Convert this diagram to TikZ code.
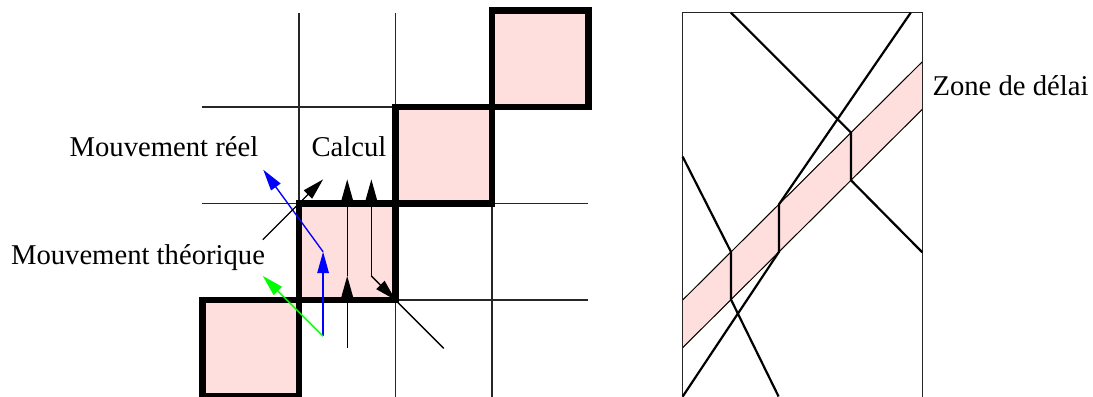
\documentclass[tikz,border=0pt]{standalone}
\usepackage{fontspec}
\setmainfont{Liberation Serif}
\usetikzlibrary{arrows.meta}
\definecolor{zonepink}{RGB}{255,222,222}
\begin{document}
\begin{tikzpicture}[
  gridline/.style={line width=0.35pt, black!85},
  cellbox/.style={line width=1.85pt, fill=zonepink, line join=miter},
  arr/.style={line width=0.4pt, -{Triangle[length=6.3pt,width=3.4pt]}},
  lbl/.style={font=\fontsize{8.45}{10}\selectfont, anchor=base, inner sep=0pt},
  traj/.style={line width=0.65pt, line join=miter},
  bandedge/.style={line width=0.3pt},
]
\clip (-2.098,0.005) rectangle (9.228,4.109);
% ---------- left figure: grid ----------
\foreach \i in {1,2,3}{
  \draw[gridline] (\i,0) -- (\i,3.975);
  \draw[gridline] (0,\i) -- (4,\i);
}
% cells
\draw[cellbox] (0,0) rectangle (1,1);
\draw[cellbox] (1,1) rectangle (2,2);
\draw[cellbox] (2,2) rectangle (3,3);
\draw[cellbox] (3,3) rectangle (4,4);
% coordinates
\coordinate (s)  at (1.25,0.625);
\coordinate (bm) at (1.25,1.5);
\coordinate (be) at (0.63,2.35);
\coordinate (ge) at (0.625,1.25);
\coordinate (d1a) at (0.625,1.625);
\coordinate (d1b) at (1.25,2.25);
\coordinate (v1a) at (1.5,0.5);
\coordinate (v1b) at (1.5,1.25);
\coordinate (v1c) at (1.5,2.25);
\coordinate (v2a) at (1.75,1.25);
\coordinate (v2b) at (1.75,2.25);
\coordinate (cr) at (2,1);
\coordinate (cre) at (2.5,0.5);
% arrows
\draw[arr, blue] (s) -- (bm);
\draw[arr, blue] (bm) -- (be);
\draw[arr, green] (s) -- (ge);
\draw[arr] (d1a) -- (d1b);
\draw[arr] (v1a) -- (v1b);
\draw[arr] (v1b) -- (v1c);
\draw[arr] (v2a) -- (v2b);
\draw[arr] (v2a) -- (cr);
\draw[line width=0.4pt] (cr) -- (cre);
% labels
\node[lbl] (reel) at (-0.399,2.485) {Mouvement réel};
\node[lbl] (calc) at (1.518,2.485) {Calcul};
\node[lbl] (theo) at (-0.668,1.363) {Mouvement théorique};
% ---------- right figure ----------
\coordinate (bl0) at (4.976,0.506);
\coordinate (bl1) at (7.459,2.976);
\coordinate (bu0) at (4.976,1.0);
\coordinate (bu1) at (7.459,3.469);
\fill[zonepink] (bl0) -- (bl1) -- (bu1) -- (bu0) -- cycle;
\draw[bandedge] (bl0) -- (bl1);
\draw[bandedge] (bu0) -- (bu1);
\draw[gridline] (4.976,-0.1) -- (4.976,3.977) -- (7.459,3.977) -- (7.459,-0.1);
% trajectory A
\coordinate (a0) at (5.477,3.977);
\coordinate (a1) at (6.720,2.735);
\coordinate (a2) at (6.720,2.241);
\coordinate (a3) at (7.459,1.494);
\draw[traj] (a0) -- (a1) -- (a2) -- (a3);
% trajectory B
\coordinate (b0) at (7.339,3.977);
\coordinate (b1) at (5.974,1.992);
\coordinate (b2) at (5.974,1.499);
\coordinate (b3) at (4.976,0.0);
\draw[traj] (b0) -- (b1) -- (b2) -- (b3);
% trajectory C
\coordinate (c0) at (4.976,2.485);
\coordinate (c1) at (5.477,1.498);
\coordinate (c2) at (5.477,1.004);
\coordinate (c3) at (5.97,0.0);
\draw[traj] (c0) -- (c1) -- (c2) -- (c3);
\node[lbl] (zone) at (8.373,3.124) {Zone de délai};
\end{tikzpicture}
\end{document}
